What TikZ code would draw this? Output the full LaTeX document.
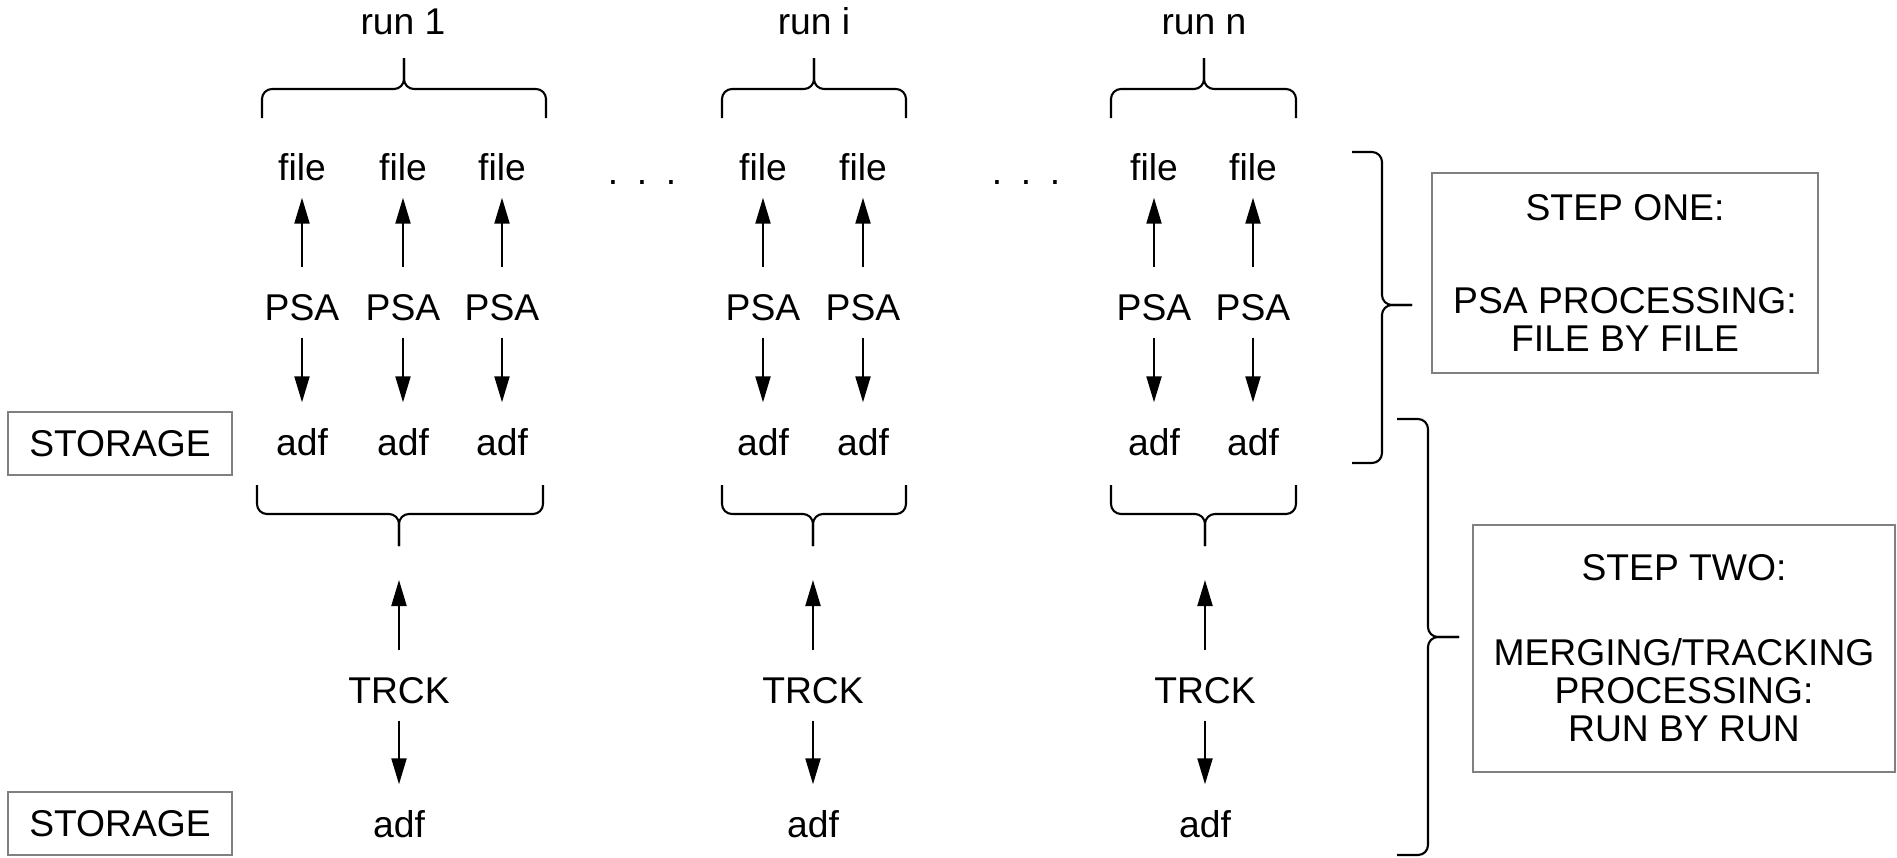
\documentclass[tikz,border=0pt]{standalone}
\usepackage{fontspec}
\setmainfont{Liberation Sans}
\usepackage{tikz}
\usetikzlibrary{arrows.meta}
% curly braces built from two rounded halves meeting in a cusp
\newcommand{\runbrace}[6]{% x left, x right, x tip, y ends, y bar, y tip
  \draw[curly] (#1,#4) -- (#1,#5) -- (#3,#5) -- (#3,#6);
  \draw[curly] (#2,#4) -- (#2,#5) -- (#3,#5) -- (#3,#6);}
\newcommand{\stepbrace}[6]{% x ends, x bar, x tip, y top, y bottom, y tip
  \draw[curly] (#1,#4) -- (#2,#4) -- (#2,#6) -- (#3,#6);
  \draw[curly] (#1,#5) -- (#2,#5) -- (#2,#6) -- (#3,#6);}

\begin{document}
\begin{tikzpicture}[x=1mm,y=1mm,>={Triangle[length=2.6mm,width=1.5mm]},
  every node/.style={font=\fontsize{10.6}{10.8}\selectfont},
  lbl/.style={anchor=base,inner sep=0pt,text height=5.2mm,text depth=1.7mm},
  store/.style={draw=black!50,line width=0.6pt,inner sep=0pt,minimum width=22.4mm,minimum height=6.3mm},
  stepbox/.style={draw=black!50,line width=0.6pt,align=center,inner sep=0pt},
  curly/.style={line width=0.6pt,rounded corners=1mm},
  flow/.style={->,line width=0.6pt}]
\useasboundingbox (0,0) rectangle (189.7,-85.7);
% runs and their upper braces
\node[lbl] (run1) at (40.3,-3.4) {run 1};
\node[lbl] (runi) at (81.4,-3.4) {run i};
\node[lbl] (runn) at (120.4,-3.4) {run n};
\runbrace{26.2}{54.6}{40.4}{-11.8}{-8.9}{-5.8}
\runbrace{72.2}{90.6}{81.4}{-11.8}{-8.9}{-5.8}
\runbrace{111.1}{129.6}{120.4}{-11.8}{-8.9}{-5.8}
% step one: file <- PSA -> adf, one column per file
\foreach \c/\x in {1/30.2,2/40.3,3/50.2,4/76.3,5/86.3,6/115.4,7/125.3} {
  \node[lbl] (file\c) at (\x,-18.0) {file};
  \node[lbl] (psa\c) at (\x,-32.0) {PSA};
  \node[lbl] (adf\c) at (\x,-45.5) {adf};
  \draw[flow] (psa\c) -- (file\c);
  \draw[flow] (psa\c) -- (adf\c);
}
\node[lbl] (dots1) at (64.2,-18.4) {.\enspace.\enspace.};
\node[lbl] (dots2) at (102.6,-18.4) {.\enspace.\enspace.};
% step two: lower braces, TRCK -> adf per run
\runbrace{25.7}{54.3}{39.9}{-48.5}{-51.4}{-54.6}
\runbrace{72.2}{90.6}{81.3}{-48.5}{-51.4}{-54.6}
\runbrace{111.1}{129.6}{120.5}{-48.5}{-51.4}{-54.6}
\foreach \r/\x in {1/39.9,i/81.3,n/120.5} {
  \coordinate (tip\r) at (\x,-54.6);
  \node[lbl] (trck\r) at (\x,-70.3) {TRCK};
  \node[lbl] (out\r) at (\x,-83.7) {adf};
  \draw[flow,shorten >=3.4mm] (trck\r) -- (tip\r);
  \draw[flow] (trck\r) -- (out\r);
}
% storage tags on the left
\node[store] (stor1) at (12.0,-44.35) {STORAGE};
\node[store] (stor2) at (12.0,-82.35) {STORAGE};
% step descriptions on the right
\stepbrace{135.2}{138.2}{141.2}{-15.2}{-46.3}{-30.5}
\stepbrace{139.7}{142.8}{145.9}{-41.9}{-85.5}{-63.7}
\node[stepbox,minimum width=38.6mm,minimum height=20mm] (one) at (162.5,-27.3)
  {STEP ONE:\\[5.5mm]PSA PROCESSING:\\FILE BY FILE};
\node[stepbox,minimum width=42.2mm,minimum height=24.7mm] (two) at (168.4,-64.85)
  {STEP TWO:\\[4.7mm]MERGING/TRACKING\\PROCESSING:\\RUN BY RUN};
\end{tikzpicture}
\end{document}
